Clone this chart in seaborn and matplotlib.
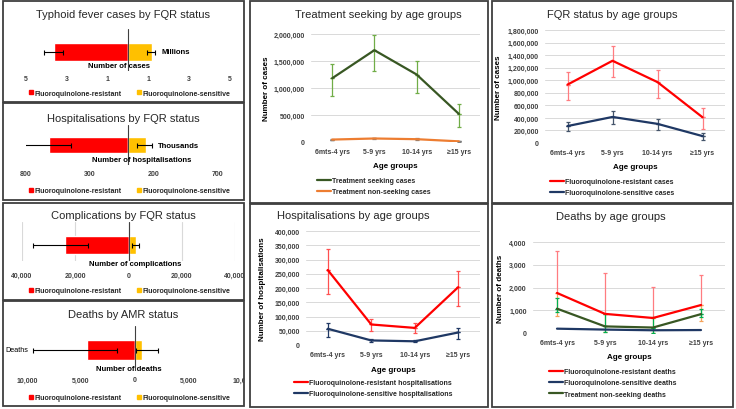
import numpy as np
import pandas as pd
import matplotlib
matplotlib.use('Agg')
import matplotlib.pyplot as plt
import seaborn as sns
from matplotlib.patches import Rectangle
from matplotlib.lines import Line2D
from matplotlib.transforms import Bbox, TransformedBbox

sns.set_theme(style='white')
plt.rcParams['font.family'] = ['Liberation Sans', 'DejaVu Sans']

W, H = 736, 410

# ---------------- data ----------------
fqr_labels = ['Fluoroquinolone-resistant', 'Fluoroquinolone-sensitive']

# left column butterfly bars: value, low, high (resistant drawn to the left)
cases_res, cases_res_lo, cases_res_hi = 3.63, 3.19, 4.12          # millions
cases_sen, cases_sen_lo, cases_sen_hi = 1.18, 0.93, 1.32
hosp_res, hosp_res_lo, hosp_res_hi = 620, 446, 820                # thousands
hosp_sen, hosp_sen_lo, hosp_sen_hi = 141, 70, 188
comp_res, comp_res_lo, comp_res_hi = 23850, 15200, 35900
comp_sen, comp_sen_lo, comp_sen_hi = 2800, 1300, 3950
death_res, death_res_lo, death_res_hi = 4440, 1670, 9440
death_sen, death_sen_lo, death_sen_hi = 650, 90, 2130

ages = ['6mts-4 yrs', '5-9 yrs', '10-14 yrs', '\u226515 yrs']

seek = [1180000, 1700000, 1250000, 520000]
seek_lo = [860000, 1320000, 900000, 280000]
seek_hi = [1440000, 1980000, 1500000, 700000]
nonseek = [45000, 65000, 52000, 12000]
nonseek_lo = [35000, 50000, 38000, 6000]
nonseek_hi = [55000, 80000, 70000, 20000]

fqr_r = [930000, 1310000, 970000, 410000]
fqr_r_lo = [690000, 1050000, 710000, 230000]
fqr_r_hi = [1130000, 1550000, 1170000, 560000]
fqr_s = [270000, 415000, 305000, 110000]
fqr_s_lo = [185000, 310000, 215000, 55000]
fqr_s_hi = [340000, 515000, 385000, 160000]

hosp_r = [263000, 72000, 60000, 203000]
hosp_r_lo = [178000, 48000, 42000, 138000]
hosp_r_hi = [337000, 91000, 76000, 260000]
hosp_s = [57000, 16000, 13000, 44000]
hosp_s_lo = [28000, 10000, 9000, 22000]
hosp_s_hi = [77000, 22000, 17000, 59000]

dth_r = [1760, 840, 660, 1230]
dth_r_lo = [740, 50, 20, 520]
dth_r_hi = [3600, 2620, 2010, 2560]
dth_s = [190, 150, 120, 130]
dth_t = [1070, 290, 240, 830]
dth_t_lo = [940, 30, 20, 720]
dth_t_hi = [1520, 820, 700, 1060]

RED = '#FF0000'
YELLOW = '#FFC000'
GREEN = '#385723'
ORANGE = '#ED7D31'
NAVY = '#1F3864'
GRID = '#D9D9D9'
FS = 5.0
TITLE_FS = 8.0


def rect(x0, y0, x1, y1):
    return [x0 / W, 1 - y1 / H, (x1 - x0) / W, (y1 - y0) / H]


def ftext(x, y, s, **kw):
    return fig.text(x / W, 1 - y / H, s, **kw)


def border(x0, y0, x1, y1):
    fig.add_artist(Rectangle((x0 / W, 1 - y1 / H), (x1 - x0) / W, (y1 - y0) / H,
                             transform=fig.transFigure, fill=False,
                             ec='#3F3F3F', lw=1.3))


fig = plt.figure(figsize=(W / 100, H / 100), dpi=100)
fig.patch.set_facecolor('white')


def butterfly(box, ax_px, xlim, ticks, tick_labels, res, sen, bar_y, bar_h,
              unit_txt, xlabel, xlabel_pos, tick_y, legend_y, grid=False,
              title='', title_y=0, ylabel=None):
    x0, y0, x1, y1 = ax_px
    ax = fig.add_axes(rect(*ax_px))
    df = pd.DataFrame({'status': fqr_labels,
                       'value': [-res[0], sen[0]], 'row': ['a', 'a']})
    sns.barplot(data=df, x='value', y='row', hue='status',
                palette=[RED, YELLOW], dodge=False, width=1.0, saturation=1,
                legend=False, ax=ax, orient='h')
    # error bars
    ax.errorbar([-res[0]], [0], xerr=[[res[2] - res[0]], [res[0] - res[1]]],
                fmt='none', ecolor='black', elinewidth=0.8, capsize=1.8,
                capthick=0.8, zorder=5)
    ax.errorbar([sen[0]], [0], xerr=[[sen[0] - sen[1]], [sen[2] - sen[0]]],
                fmt='none', ecolor='black', elinewidth=0.8, capsize=1.8,
                capthick=0.8, zorder=5)
    # y-limits so the bar has the right pixel height / position
    ppu = bar_h
    top = -(bar_y - y0) / ppu
    bottom = (y1 - bar_y) / ppu
    ax.set_ylim(bottom, top)
    ax.set_xlim(*xlim)
    ax.axvline(0, color='#404040', lw=0.8, zorder=6)
    for s in ax.spines.values():
        s.set_visible(False)
    ax.set_xlabel('')
    ax.set_ylabel('')
    ax.set_yticks([])
    ax.set_xticks([])
    if grid:
        for t in ticks + [0]:
            ax.axvline(t, color=GRID, lw=0.8, zorder=0)
    ax.set_facecolor('none')
    clip = TransformedBbox(Bbox.from_extents(box[0] / W, 1 - box[3] / H,
                                             box[2] / W, 1 - box[1] / H),
                           fig.transFigure)
    trans = ax.get_xaxis_transform()
    for t, lab in zip(ticks, tick_labels):
        txt = ax.text(t, 1 - (tick_y - y0) / (y1 - y0), lab, transform=trans,
                      ha='center', va='center', fontsize=FS,
                      fontweight='bold', color='#404040', clip_on=True)
        txt.set_clip_box(clip)
    ftext(*xlabel_pos, xlabel, ha='center', va='center', fontsize=5.6,
          fontweight='bold', color='black')
    if unit_txt:
        ftext(unit_txt[1], bar_y, unit_txt[0], ha='left', va='center',
              fontsize=5.6, fontweight='bold', color='black')
    if ylabel:
        ftext(5, bar_y, ylabel, ha='left', va='center', fontsize=5.2,
              color='black')
    ftext((box[0] + box[2]) / 2, title_y, title, ha='center', va='center',
          fontsize=TITLE_FS, color='#262626')
    handles = [Line2D([], [], marker='s', ls='', color=c, markersize=3.2)
               for c in [RED, YELLOW]]
    fig.legend(handles, fqr_labels, loc='center',
               bbox_to_anchor=(((box[0] + box[2]) / 2 + 6) / W, 1 - legend_y / H),
               ncol=2, frameon=False, handlelength=0.6,
               handletextpad=0.15, columnspacing=2.3, borderpad=0,
               prop={'weight': 'bold', 'size': FS})
    border(*box)
    return ax


# ---------------- left column ----------------
butterfly((3, 2, 244, 103), (26, 30, 230, 72), (-5, 5),
          [-5, -3, -1, 1, 3, 5], ['5', '3', '1', '1', '3', '5'],
          (cases_res, cases_res_lo, cases_res_hi),
          (cases_sen, cases_sen_lo, cases_sen_hi), 53, 18,
          ('Millions', 162), 'Number of cases', (119, 66), 80, 94,
          title='Typhoid fever cases by FQR status', title_y=15)

butterfly((3, 104, 244, 201), (26, 126, 224, 166), (-800, 750),
          [-800, -300, 200, 700], ['800', '300', '200', '700'],
          (hosp_res, hosp_res_lo, hosp_res_hi),
          (hosp_sen, hosp_sen_lo, hosp_sen_hi), 146, 16,
          ('Thousands', 158), 'Number of hospitalisations', (142, 161), 175, 192,
          title='Hospitalisations by FQR status', title_y=119)

butterfly((3, 204, 244, 301), (22, 223, 235, 262), (-40000, 40000),
          [-40000, -20000, 0, 20000, 40000],
          ['40,000', '20,000', '0', '20,000', '40,000'],
          (comp_res, comp_res_lo, comp_res_hi),
          (comp_sen, comp_sen_lo, comp_sen_hi), 246, 18,
          None, 'Number of complications', (135, 264), 276, 292, grid=True,
          title='Complications by FQR status', title_y=216)

butterfly((3, 302, 244, 407), (27, 327, 243, 372), (-10000, 10000),
          [-10000, -5000, 0, 5000, 10000],
          ['10,000', '5,000', '0', '5,000', '10,000'],
          (death_res, death_res_lo, death_res_hi),
          (death_sen, death_sen_lo, death_sen_hi), 351, 20,
          None, 'Number of deaths', (129, 370), 381, 399,
          title='Deaths by AMR status', title_y=315, ylabel='Deaths')


# ---------------- line charts ----------------
def line_panel(box, ax_px, ymax, ystep, series, ylabel, ylabel_x, xlabel_y,
               title, title_y, legend_xy, title_x=None):
    x0, y0, x1, y1 = ax_px
    ax = fig.add_axes(rect(*ax_px))
    pos = np.arange(len(ages))
    rows = []
    for name, vals, color, lo, hi, ecols in series:
        for p, v in zip(pos, vals):
            rows.append({'pos': p, 'value': v, 'series': name})
    df = pd.DataFrame(rows)
    names = [s[0] for s in series]
    colors = [s[2] for s in series]
    sns.lineplot(data=df, x='pos', y='value', hue='series', hue_order=names,
                 palette=colors, lw=1.6, legend=False, ax=ax, zorder=3)
    for name, vals, color, lo, hi, ecols in series:
        if lo is None:
            continue
        vals = np.array(vals)
        up_c, dn_c = ecols
        ax.errorbar(pos, vals, yerr=[np.zeros(4), np.array(hi) - vals],
                    fmt='none', ecolor=up_c, elinewidth=0.9, capsize=1.6,
                    capthick=0.9, zorder=2)
        ax.errorbar(pos, vals, yerr=[vals - np.array(lo), np.zeros(4)],
                    fmt='none', ecolor=dn_c, elinewidth=0.9, capsize=1.6,
                    capthick=0.9, zorder=2)
    ax.set_xlim(-0.5, len(ages) - 0.5)
    ax.set_ylim(0, ymax)
    ax.set_yticks(np.arange(0, ymax + 1, ystep))
    ax.yaxis.set_major_formatter(matplotlib.ticker.FuncFormatter(
        lambda v, p: f'{int(v):,}'))
    ax.set_xticks(pos)
    ax.set_xticklabels(ages)
    ax.grid(axis='y', color=GRID, lw=0.7)
    ax.set_axisbelow(True)
    for s in ax.spines.values():
        s.set_visible(False)
    ax.tick_params(length=0, labelsize=FS, pad=4.5, colors='#404040')
    for lab in ax.get_xticklabels() + ax.get_yticklabels():
        lab.set_fontweight('bold')
    ax.set_xlabel('Age groups', fontsize=5.8, fontweight='bold', color='black')
    ax.set_ylabel(ylabel, fontsize=5.8, fontweight='bold', color='black')
    ax.xaxis.label.set_va('center')
    ax.yaxis.label.set_va('center')
    ax.xaxis.set_label_coords(0.5, 1 - (xlabel_y - y0) / (y1 - y0))
    ax.yaxis.set_label_coords((ylabel_x - x0) / (x1 - x0), 0.5)
    tx = title_x if title_x is not None else (box[0] + box[2]) / 2
    ftext(tx, title_y, title, ha='center', va='center', fontsize=TITLE_FS,
          color='#262626')
    handles = [Line2D([], [], color=c, lw=1.6) for c in colors]
    fig.legend(handles, names, loc='upper left',
               bbox_to_anchor=(legend_xy[0] / W, 1 - legend_xy[1] / H),
               frameon=False, handlelength=2.0, handletextpad=0.1,
               labelspacing=0.62, borderpad=0, borderaxespad=0,
               prop={'weight': 'bold', 'size': FS})
    border(*box)
    return ax


line_panel((250, 2, 488, 204), (311, 35, 480, 143), 2000000, 500000,
           [('Treatment seeking cases', seek, GREEN, seek_lo, seek_hi,
             ('#70AD47', '#70AD47')),
            ('Treatment non-seeking cases', nonseek, ORANGE, nonseek_lo,
             nonseek_hi, ('#7F7F7F', '#7F7F7F'))],
           'Number of cases', 266, 167,
           'Treatment seeking by age groups', 15, (317, 178), title_x=378)

line_panel((492, 2, 733, 204), (545, 31, 725, 144), 1800000, 200000,
           [('Fluoroquinolone-resistant cases', fqr_r, RED, fqr_r_lo, fqr_r_hi,
             ('#FF7C80', '#FF7C80')),
            ('Fluoroquinolone-sensitive cases', fqr_s, NAVY, fqr_s_lo,
             fqr_s_hi, ('#44546A', '#44546A'))],
           'Number of cases', 498, 168,
           'FQR status by age groups', 15, (550, 179), title_x=612)

line_panel((250, 205, 488, 408), (306, 232, 480, 346), 400000, 50000,
           [('Fluoroquinolone-resistant hospitalisations', hosp_r, RED,
             hosp_r_lo, hosp_r_hi, ('#FF5050', '#FF5050')),
            ('Fluoroquinolone-sensitive hospitalisations', hosp_s, NAVY,
             hosp_s_lo, hosp_s_hi, ('#203864', '#203864'))],
           'Number of hospitalisations', 263, 371,
           'Hospitalisations by age groups', 216, (294, 380), title_x=353)

line_panel((492, 205, 733, 408), (533, 243, 725, 334), 4000, 1000,
           [('Fluoroquinolone-resistant deaths', dth_r, RED, dth_r_lo,
             dth_r_hi, ('#FF7C80', '#F4A259')),
            ('Fluoroquinolone-sensitive deaths', dth_s, NAVY, None, None,
             None),
            ('Treatment non-seeking deaths', dth_t, GREEN, dth_t_lo, dth_t_hi,
             ('#00B050', '#00B050'))],
           'Number of deaths', 500, 358,
           'Deaths by age groups', 217, (549, 369), title_x=611)

fig.savefig('out.png', dpi=100, facecolor='white')
